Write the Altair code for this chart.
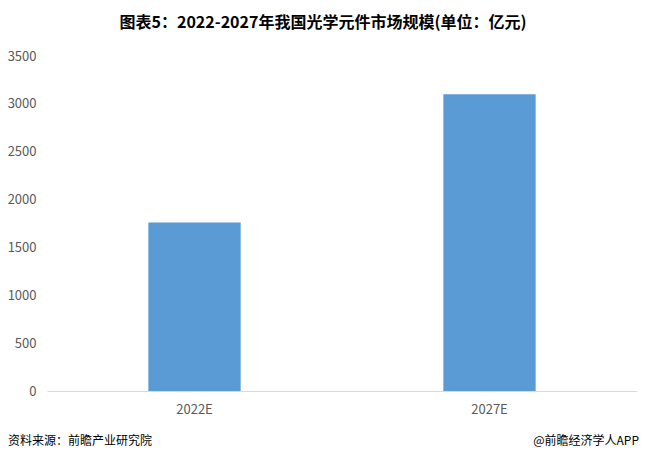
import altair as alt
import pandas as pd

categories = ["2022E", "2027E"]
values = [1760, 3100]
y_ticks = [0, 500, 1000, 1500, 2000, 2500, 3000, 3500]
title_text = "图表5：2022-2027年我国光学元件市场规模(单位：亿元)"
source_text = "资料来源：前瞻产业研究院"
brand_text = "@前瞻经济学人APP"

df = pd.DataFrame({"year": categories, "value": values})
FONT = "Noto Sans CJK SC"

bars = alt.Chart(df).mark_bar(color="#5B9BD5").encode(
    x=alt.X("year:N", sort=categories,
            scale=alt.Scale(paddingInner=0.687, paddingOuter=0.3435),
            axis=alt.Axis(title=None, labelAngle=0, ticks=False, domainColor="#D9D9D9",
                          labelColor="#595959", labelFontSize=13, labelFont=FONT,
                          labelPadding=12)),
    y=alt.Y("value:Q", scale=alt.Scale(domain=[0, 3500], nice=False),
            axis=alt.Axis(title=None, values=y_ticks, format="d", grid=False, domain=False,
                          ticks=False, labelColor="#595959", labelFontSize=13, labelFont=FONT,
                          labelPadding=11)),
)

foot = pd.DataFrame({"t": [source_text]})
left_note = alt.Chart(foot).mark_text(align="left", baseline="middle", fontSize=12,
                                      font=FONT, color="#000000").encode(
    text="t:N", x=alt.value(-39), y=alt.value(385))
foot2 = pd.DataFrame({"t": [brand_text]})
right_note = alt.Chart(foot2).mark_text(align="right", baseline="middle", fontSize=12,
                                        font=FONT, color="#000000").encode(
    text="t:N", x=alt.value(592), y=alt.value(385))

chart = alt.layer(bars, left_note, right_note).properties(
    width=590, height=335,
    autosize=alt.AutoSizeParams(type="none"),
    padding={"left": 39, "top": 48, "right": 2, "bottom": 61},
    title=alt.TitleParams(title_text, fontSize=16, fontWeight="bold", font=FONT,
                          color="#000000", anchor="middle", dx=-19, offset=19),
).configure_view(stroke=None)

chart.save("out.html", embed_options={"renderer": "svg", "actions": False})
